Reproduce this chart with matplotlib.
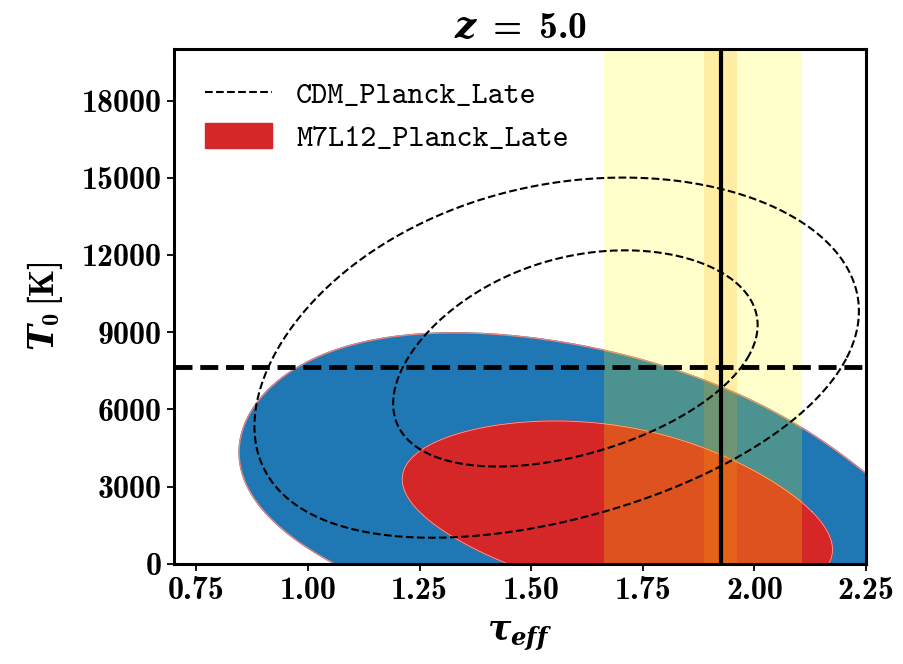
import numpy as np
import matplotlib
matplotlib.use("Agg")
import matplotlib.pyplot as plt
from matplotlib.lines import Line2D
from matplotlib.patches import Patch

plt.rcParams["mathtext.fontset"] = "custom"
plt.rcParams["mathtext.rm"] = "cmb10"
plt.rcParams["mathtext.bf"] = "cmb10"
plt.rcParams["mathtext.it"] = "DejaVu Serif:italic:bold"
plt.rcParams["mathtext.bfit"] = "DejaVu Serif:italic:bold"

# contour shapes:
# centre x, centre T0 [1e3 K], half width, half height, tilt phase, bend (u^2), bend (u^3)
cdm_outer = [1.5642, 8.0095, 0.6754, 6.9990, 0.3123, -0.0717, 0.0065]
cdm_inner = [1.6037, 7.9794, 0.4077, 4.2012, 0.3690, -0.0362, -0.0043]
m7_outer = [1.6563, 1.5143, 0.8657, 7.4589, -0.5787, 0.3559, -0.2108]
m7_inner = [1.6891, 2.0256, 0.4843, 3.5229, -0.4325, 0.0263, 0.0416]

tau_obs = 1.926
tau_band_1 = [1.887, 1.962]
tau_band_2 = [1.663, 2.107]
t0_ref = 7650

xticks = [0.75, 1.00, 1.25, 1.50, 1.75, 2.00, 2.25]
yticks = [0, 3000, 6000, 9000, 12000, 15000, 18000]


def contour_xy(p):
    cx, cy, a, b, psi, k2, k3 = p
    th = np.linspace(0, 2 * np.pi, 721)
    u = np.sin(th)
    x = cx + a * np.cos(th - psi) + k2 * u ** 2 + k3 * u ** 3
    y = (cy + b * u) * 1000
    return x, y


fig = plt.figure(figsize=(9.04, 6.64), dpi=100)
ax = fig.add_axes([0.1925, 0.151, 0.7655, 0.775])

# M7L12 filled contours
x, y = contour_xy(m7_outer)
ax.fill(x, y, color="#1f77b4", zorder=1)
ax.plot(x, y, color="#e8827f", lw=1.0, zorder=1.1)
x, y = contour_xy(m7_inner)
ax.fill(x, y, color="#d62728", zorder=1.2)
ax.plot(x, y, color="#f2a6a6", lw=0.6, zorder=1.3)

# observed tau bands
ax.axvspan(tau_band_2[0], tau_band_2[1], color="yellow", alpha=0.2, lw=0, zorder=2)
ax.axvspan(tau_band_1[0], tau_band_1[1], color="orange", alpha=0.2, lw=0, zorder=2.1)

# CDM contours
for p in [cdm_outer, cdm_inner]:
    x, y = contour_xy(p)
    ax.plot(x, y, color="k", ls="--", lw=1.5, zorder=3)

ax.axvline(tau_obs, color="k", lw=3, zorder=4)
ax.axhline(t0_ref, color="k", ls="--", lw=3.5, zorder=4)

ax.set_xlim(0.7, 2.25)
ax.set_ylim(0, 20000)
ax.set_xticks(xticks)
ax.set_xticklabels(["%.2f" % t for t in xticks])
ax.set_yticks(yticks)
ax.set_yticklabels([str(t) for t in yticks])
for lab in ax.get_xticklabels() + ax.get_yticklabels():
    lab.set_fontfamily("cmb10")
    lab.set_fontsize(23)
ax.tick_params(direction="out", length=5, width=1.3, pad=4)
for s in ax.spines.values():
    s.set_linewidth(2.2)

ax.set_title(r"$z\:=\:5.0$", fontsize=27, pad=8)
ax.set_xlabel(r"$\tau_{eff}$", fontsize=25, labelpad=10)
ax.set_ylabel(r"$T_0\,\mathrm{[K]}$", fontsize=25, labelpad=12)

handles = [Line2D([], [], color="k", ls="--", lw=1.5),
           Patch(color="#d62728")]
ax.legend(handles, ["CDM_Planck_Late", "M7L12_Planck_Late"], loc="upper left",
          bbox_to_anchor=(0, 0.998), frameon=False,
          prop=dict(family="cmtt10", size=22), handlelength=2.2, handleheight=0.85,
          borderaxespad=0.6, labelspacing=0.42)

fig.savefig("out.png", dpi=100)
